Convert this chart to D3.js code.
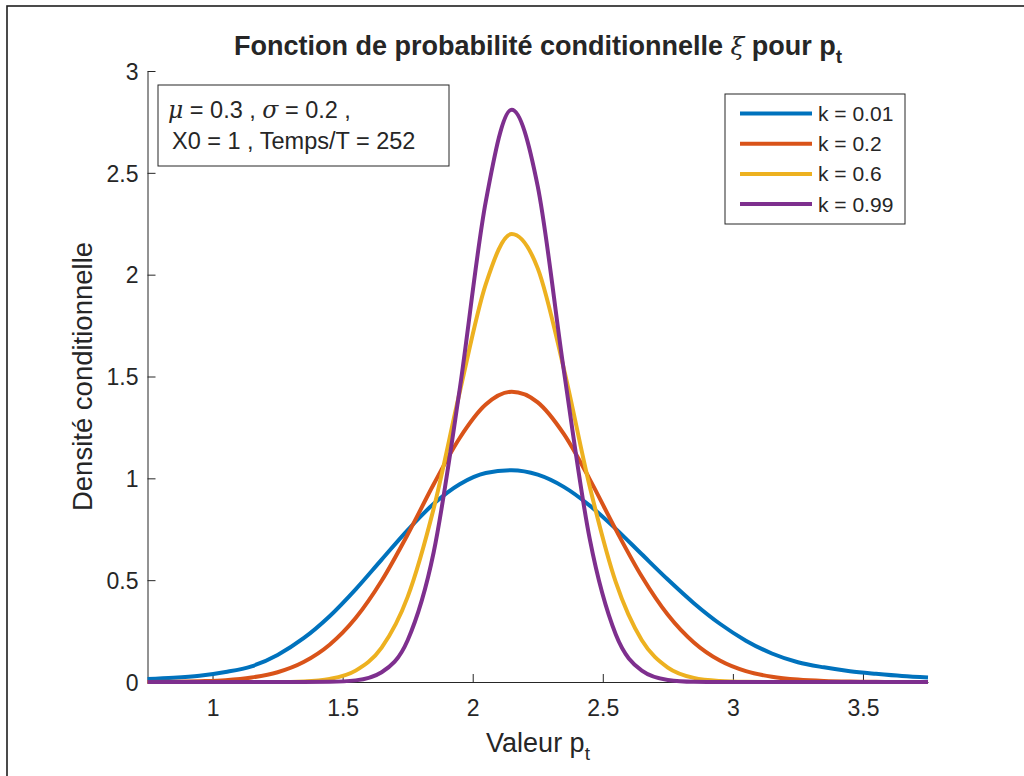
<!DOCTYPE html>
<html><head><meta charset="utf-8">
<script src="https://cdn.jsdelivr.net/npm/d3@7"></script>
<style>
body{margin:0;background:#fff}
svg{display:block}
text{font-family:"Liberation Sans",Arial,Helvetica,sans-serif;fill:#262626}
</style>
</head><body>
<svg id="chart" width="1024" height="776"></svg>
<script>
// ---- data ----
const xValues = [0.75,0.85,0.95,1.05,1.15,1.25,1.35,1.45,1.55,1.65,1.75,1.85,1.95,2.05,2.15,2.25,2.35,2.45,2.55,2.65,2.75,2.85,2.95,3.05,3.15,3.25,3.35,3.45,3.55,3.65,3.75];
const seriesLabels = ["k = 0.01","k = 0.2","k = 0.6","k = 0.99"];
const densK001 = [0.015,0.021,0.031,0.049,0.077,0.133,0.215,0.323,0.455,0.601,0.746,0.875,0.971,1.026,1.040,1.018,0.958,0.866,0.752,0.627,0.503,0.387,0.286,0.203,0.140,0.097,0.072,0.053,0.040,0.029,0.022];
const densK02  = [0.000,0.001,0.004,0.009,0.022,0.048,0.098,0.183,0.314,0.497,0.724,0.971,1.198,1.362,1.425,1.373,1.218,0.995,0.748,0.518,0.330,0.194,0.105,0.053,0.026,0.012,0.005,0.002,0.001,0.000,0.000];
const densK06  = [0,0,0,0,0,0.000,0.003,0.015,0.056,0.169,0.418,0.852,1.423,1.952,2.200,2.031,1.540,0.959,0.490,0.205,0.071,0.020,0.005,0.001,0,0,0,0,0,0,0];
const densK099 = [0,0,0,0,0,0,0,0.001,0.008,0.048,0.205,0.637,1.437,2.357,2.810,2.433,1.532,0.701,0.233,0.056,0.010,0.001,0,0,0,0,0,0,0,0,0];
const xTicks = [1,1.5,2,2.5,3,3.5];
const yTicks = [0,0.5,1,1.5,2,2.5,3];
const xDomain = [0.75,3.75];
const yDomain = [0,3];
const infoLine2 = "X0 = 1 , Temps/T = 252";
const colors = ["#0072BD","#D95319","#EDB120","#7E2F8E"];

const series = [densK001, densK02, densK06, densK099].map((vals,i)=>({
  label: seriesLabels[i], color: colors[i],
  points: xValues.map((x,j)=>({x, y: vals[j]}))
}));

const svg = d3.select("#chart");
const ink = "#262626";

// figure border
svg.append("rect").attr("x",7).attr("y",6).attr("width",1040).attr("height",800)
  .attr("fill","none").attr("stroke","#1e1e1e").attr("stroke-width",1.6);

const x = d3.scaleLinear().domain(xDomain).range([147.5, 928]);
const y = d3.scaleLinear().domain(yDomain).range([682, 71]);

// axes
const fmt = d => String(d);
const gx = svg.append("g").attr("transform","translate(0,682)")
  .call(d3.axisBottom(x).tickValues(xTicks).tickFormat(fmt).tickSizeInner(-8).tickSizeOuter(0).tickPadding(18));
const gy = svg.append("g").attr("transform","translate(147.5,0)")
  .call(d3.axisLeft(y).tickValues(yTicks).tickFormat(fmt).tickSizeInner(-8).tickSizeOuter(0).tickPadding(9));
[gx,gy].forEach(g=>{
  g.select(".domain").attr("stroke",ink).attr("stroke-width",1);
  g.selectAll(".tick line").attr("stroke",ink).attr("stroke-width",1);
  g.selectAll(".tick text").attr("fill",ink).style("font-size","23px")
    .style("font-family",'"Liberation Sans",Arial,sans-serif');
});
gy.selectAll(".tick text").attr("dy","0.36em");

// curves
const line = d3.line().x(d=>x(d.x)).y(d=>y(d.y)).curve(d3.curveMonotoneX);
svg.append("g").selectAll("path").data(series).join("path")
  .attr("d", d=>line(d.points))
  .attr("fill","none").attr("stroke",d=>d.color).attr("stroke-width",4)
  .attr("stroke-linejoin","round").attr("stroke-linecap","butt");

// title
const title = svg.append("text").attr("x",538).attr("y",55).attr("text-anchor","middle")
  .style("font-size","27px").style("font-weight","bold");
title.append("tspan").text("Fonction de probabilité conditionnelle ");
title.append("tspan").text("ξ").style("font-family",'"DejaVu Serif",serif').style("font-style","italic").style("font-weight","normal").style("font-size","25px");
title.append("tspan").text(" pour p");
title.append("tspan").text("t").attr("dy",8).style("font-size","19px");

// x label
const xl = svg.append("text").attr("x",538).attr("y",752).attr("text-anchor","middle").style("font-size","27px");
xl.append("tspan").text("Valeur p");
xl.append("tspan").text("t").attr("dy",8).style("font-size","19px");

// y label
svg.append("text").attr("transform","translate(92,376.5) rotate(-90)").attr("text-anchor","middle")
  .style("font-size","27.5px").text("Densité conditionnelle");

// info text box
svg.append("rect").attr("x",158).attr("y",85).attr("width",291).attr("height",81)
  .attr("fill","#fff").attr("stroke",ink).attr("stroke-width",1);
const t1 = svg.append("text").attr("x",168).attr("y",118).style("font-size","23.5px");
t1.append("tspan").text("μ").style("font-family",'"DejaVu Serif",serif').style("font-style","italic");
t1.append("tspan").text(" = 0.3 , ");
t1.append("tspan").text("σ").style("font-family",'"DejaVu Serif",serif').style("font-style","italic");
t1.append("tspan").text(" = 0.2 ,");
svg.append("text").attr("x",172).attr("y",148.5).style("font-size","23.5px").text(infoLine2);

// legend
const lg = svg.append("g");
lg.append("rect").attr("x",725).attr("y",94).attr("width",180).attr("height",130)
  .attr("fill","#fff").attr("stroke",ink).attr("stroke-width",1);
series.forEach((s,i)=>{
  const yy = 113.5 + i*30.2;
  lg.append("line").attr("x1",740).attr("x2",812).attr("y1",yy).attr("y2",yy)
    .attr("stroke",s.color).attr("stroke-width",4);
  lg.append("text").attr("x",818).attr("y",yy+7.5).style("font-size","21px").text(s.label);
});
</script>
</body></html>
